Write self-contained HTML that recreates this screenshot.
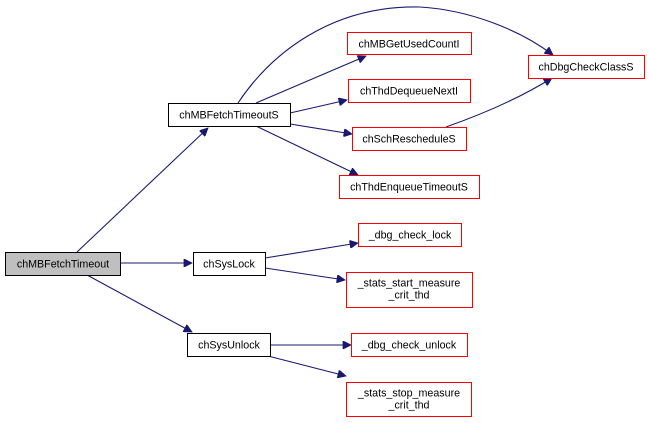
<!DOCTYPE html>
<html><head><meta charset="utf-8"><style>body{margin:0;background:#fff}svg{display:block}text{font-family:"Liberation Sans",Arial,sans-serif;font-size:10.7px;fill:#000}</style></head><body>
<svg width="649" height="423" viewBox="0 0 649 423" xmlns="http://www.w3.org/2000/svg">
<defs><marker id="a" viewBox="0 0 10 10" refX="10" refY="5" markerWidth="11" markerHeight="8" markerUnits="userSpaceOnUse" orient="auto"><path d="M0,0L10,5L0,10z" fill="#191970" stroke="#191970"/></marker></defs>
<g fill="none" stroke="#191970" stroke-width="1.1" marker-end="url(#a)">
<path d="M77,252L208,128"/>
<path d="M120,263L192,263"/>
<path d="M87,275L192,332"/>
<path d="M238,103C270,55 330,5 420,7C470,10 520,30 553,55"/>
<path d="M256,103L366,56"/>
<path d="M290,113L347,100"/>
<path d="M290,124L352,134"/>
<path d="M256,126L358,175"/>
<path d="M446,127C480,115 520,98 552,78"/>
<path d="M265,258L358,243"/>
<path d="M265,268L345,280"/>
<path d="M270,345L351,345"/>
<path d="M268,356L346,376"/>
</g>
<g stroke-width="1">
<rect x="5.5" y="252.5" width="115" height="23" fill="#bfbfbf" stroke="#000"/>
<rect x="168.5" y="103.5" width="122" height="23" fill="#fff" stroke="#000"/>
<rect x="193.5" y="252.5" width="72" height="23" fill="#fff" stroke="#000"/>
<rect x="187.5" y="333.5" width="83" height="23" fill="#fff" stroke="#000"/>
<g fill="#fff" stroke="#ff0000">
<rect x="347.5" y="32.5" width="124" height="22"/>
<rect x="348.5" y="79.5" width="122" height="23"/>
<rect x="352.5" y="127.5" width="114" height="23"/>
<rect x="339.5" y="175.5" width="140" height="23"/>
<rect x="528.5" y="55.5" width="116" height="23"/>
<rect x="358.5" y="223.5" width="103" height="23"/>
<rect x="346.5" y="272.5" width="126" height="35"/>
<rect x="351.5" y="333.5" width="116" height="23"/>
<rect x="346.5" y="382.5" width="125" height="34"/>
</g></g>
<g text-anchor="middle">
<text x="63" y="267.5">chMBFetchTimeout</text>
<text x="229" y="118.5">chMBFetchTimeoutS</text>
<text x="229" y="267.5">chSysLock</text>
<text x="229" y="348.5">chSysUnlock</text>
<text x="409" y="47.5">chMBGetUsedCountI</text>
<text x="409" y="94.5">chThdDequeueNextI</text>
<text x="409" y="142.5">chSchRescheduleS</text>
<text x="409" y="190.5">chThdEnqueueTimeoutS</text>
<text x="586" y="70.5">chDbgCheckClassS</text>
<text x="410" y="238.5">_dbg_check_lock</text>
<text x="409" y="286.5">_stats_start_measure</text>
<text x="409" y="298.5">_crit_thd</text>
<text x="409" y="348.5">_dbg_check_unlock</text>
<text x="409" y="396.5">_stats_stop_measure</text>
<text x="409" y="408.5">_crit_thd</text>
</g>
</svg>
</body></html>
